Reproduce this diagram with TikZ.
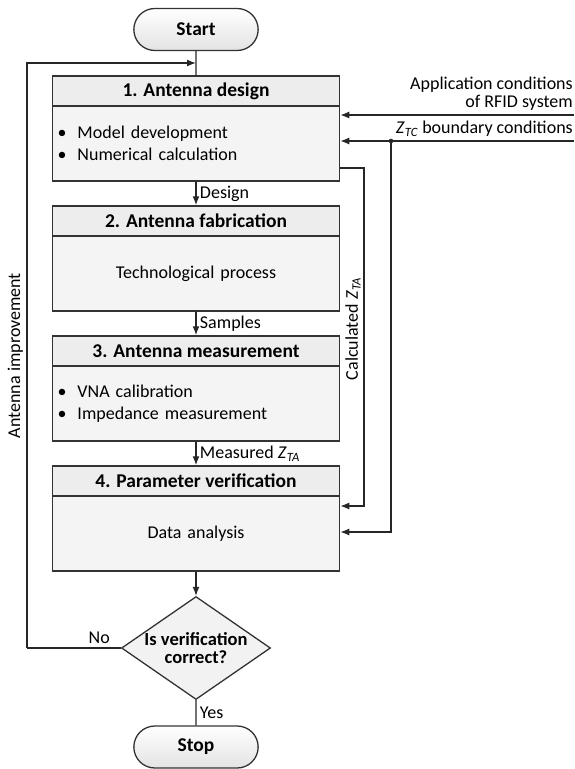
\documentclass[tikz,border=0pt]{standalone}
\usepackage{fontspec}
\setmainfont{Carlito}
\usetikzlibrary{arrows.meta,shapes.geometric,shapes.misc}

\newcommand{\zimp}[1]{\textit{Z}\textsubscript{\textit{#1}}}
\newcommand{\bitem}[1]{\makebox[20pt][l]{\textbullet}#1}

\begin{document}
\begin{tikzpicture}[
    x=1pt, y=-1pt,
    >={Latex[length=9pt,width=7pt]},
    every node/.style={font=\fontsize{18}{22}\selectfont},
    head/.style={draw=black!80, line width=1.5pt, fill=gray!14,
        minimum width=287pt, minimum height=30pt, inner sep=0pt,
        font=\fontsize{19.5}{22}\selectfont\bfseries},
    body/.style={draw=black!80, line width=1.5pt, fill=gray!9,
        text width=277pt, inner xsep=5pt, inner ysep=0pt,
        minimum height=75pt},
    term/.style={rounded rectangle, draw=black!80, line width=1.3pt,
        top color=white, bottom color=gray!22,
        minimum width=131pt, minimum height=42pt,
        font=\fontsize{19.5}{22}\selectfont\bfseries},
    decision/.style={diamond, draw=black!80, line width=1.3pt,
        fill=gray!10, minimum width=149pt, minimum height=103pt,
        inner sep=0pt, aspect=1.45, align=center,
        font=\fontsize{18.5}{18}\selectfont\bfseries},
    link/.style={line width=1.3pt, draw=black!85},
    flow/.style={link, ->},
    ]

    \useasboundingbox (0,0) rectangle (574,769);

    % start
    \node[term] (start) at (196,29.5) {Start};

    % 1. antenna design
    \node[head] (head1) at (196,91) {1. Antenna design};
    \node[body, align=left] (body1) at (196,143.5)
        {\bitem{Model development}\\\bitem{Numerical calculation}};

    % 2. antenna fabrication
    \node[head] (head2) at (196,221) {2. Antenna fabrication};
    \node[body, align=center] (body2) at (196,273.5) {Technological process};

    % 3. antenna measurement
    \node[head] (head3) at (196,351) {3. Antenna measurement};
    \node[body, align=left] (body3) at (196,403.5)
        {\bitem{VNA calibration}\\\bitem{Impedance measurement}};

    % 4. parameter verification
    \node[head] (head4) at (196,481) {4. Parameter verification};
    \node[body, align=center] (body4) at (196,533.5) {Data analysis};

    % decision and stop
    \node[decision] (dec) at (196,648) {Is verification\\correct?};
    \node[term] (stop) at (196,747) {Stop};

    % main flow
    \draw[link] (start) -- (head1);
    \draw[flow] (body1) -- node[right] {Design} (head2);
    \draw[flow] (body2) -- node[right] {Samples} (head3);
    \draw[flow] (body3) -- node[right] {Measured \zimp{TA}} (head4);
    \draw[flow] (body4) -- (dec);
    \draw[link] (dec) -- node[right] {Yes} (stop);

    % feedback loop
    \coordinate (fbA) at (27,648);
    \coordinate (fbB) at (27,63);
    \coordinate (fbC) at (196,63);
    \draw[link] (dec.west) -- node[pos=0.23, above] {No} (fbA);
    \draw[flow] (fbA) -- node[midway, rotate=90, above] {Antenna improvement}
        (fbB) -- (fbC);

    % external inputs
    \coordinate (appA) at (574,115);
    \coordinate (appZ) at (574,141);
    \coordinate (junc) at (391,141);
    \coordinate (zin) at (391,532);
    \node[anchor=south east, align=right, inner sep=0pt,
        font=\fontsize{18}{18}\selectfont] (applabel) at (573,111)
        {Application conditions\\of RFID system};
    \node[anchor=east, inner sep=0pt] (zlabel) at (573,129)
        {\zimp{TC} boundary conditions};
    \draw[flow] (appA) -- (appA -| body1.east);
    \draw[flow] (appZ) -- (appZ -| body1.east);
    \fill[black!85] (junc) circle (2.3pt);
    \draw[flow] (junc) -- (zin) -- (zin -| body4.east);

    % calculated impedance
    \coordinate (calcA) at (364,168);
    \coordinate (calcB) at (364,506);
    \draw[flow] (calcA -| body1.east) -- (calcA) -- (calcB) -- (calcB -| body4.east);
    \node[rotate=90] (calclabel) at (353,329) {Calculated \zimp{TA}};

\end{tikzpicture}
\end{document}
